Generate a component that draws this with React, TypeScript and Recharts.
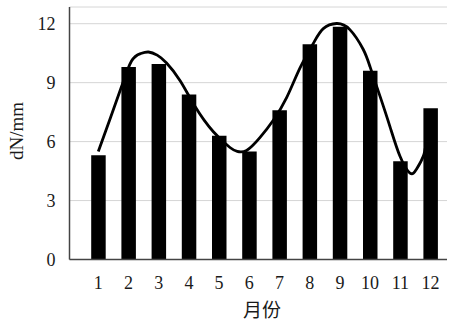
import { Bar, CartesianGrid, ComposedChart, Line, XAxis, YAxis } from 'recharts';

// Monthly values shown as bars
const months = [1, 2, 3, 4, 5, 6, 7, 8, 9, 10, 11, 12];
const barValues = [5.3, 9.8, 9.95, 8.4, 6.3, 5.5, 7.6, 10.95, 11.85, 9.6, 5.0, 7.7];

// Fitted curve, traced point by point
const curveMonths = [
  1.0, 1.4, 1.77, 2.1, 2.4, 2.66, 2.95, 3.26, 3.71, 4.2, 4.81, 5.36, 5.6, 5.91, 6.35, 6.8,
  7.24, 7.68, 8.12, 8.45, 8.89, 9.33, 9.77, 10.0, 10.33, 10.66, 10.99, 11.32, 11.54, 11.76, 11.85,
];
const curveValues = [
  5.5, 7.2, 8.8, 10.1, 10.48, 10.56, 10.4, 10.0, 9.1, 7.8, 6.5, 5.7, 5.5, 5.55, 6.2, 7.1,
  8.25, 9.75, 11.0, 11.75, 12.01, 11.7, 10.7, 9.8, 8.3, 6.75, 5.25, 4.4, 4.6, 5.25, 5.9,
];

const yTicks = [0, 3, 6, 9, 12];
const yMax = 12.85;

const W = 460;
const H = 324;
const PLOT_LEFT = 69.5;
const PLOT_RIGHT = 447;
const PLOT_TOP = 7;
const PLOT_BOTTOM = 259.5;
const PAD_LEFT = 13.7;
const PAD_RIGHT = 1.4;

const band = (PLOT_RIGHT - PLOT_LEFT - PAD_LEFT - PAD_RIGHT) / months.length;
const curveMin = 1 - (PAD_LEFT + band / 2) / band;
const curveMax = curveMin + (PLOT_RIGHT - PLOT_LEFT) / band;

const barData = months.map((m, i) => ({ month: m, value: barValues[i] }));
const curveData = curveMonths.map((m, i) => ({ m, dn: curveValues[i] }));

const serif = '"Liberation Serif", "DejaVu Serif", serif';
const frame = '#444';

export default function App() {
  return (
    <div style={{ position: 'absolute', left: 0, top: 0, width: W, height: H, background: '#fff' }}>
      <ComposedChart
        width={W}
        height={H}
        data={barData}
        margin={{ top: PLOT_TOP, right: W - PLOT_RIGHT, bottom: 0, left: 0 }}
      >
        <CartesianGrid horizontal vertical={false} stroke="#d6d6d6" strokeWidth={1} />
        <XAxis
          xAxisId="bar"
          dataKey="month"
          type="category"
          padding={{ left: PAD_LEFT, right: PAD_RIGHT }}
          height={H - PLOT_BOTTOM}
          axisLine={{ stroke: frame, strokeWidth: 1.5 }}
          tickLine={false}
          tickMargin={11}
          tick={{ fontSize: 18, fill: '#1a1a1a', fontFamily: serif }}
          interval={0}
          label={{
            content: () => (
              <text
                x={262}
                y={317}
                textAnchor="middle"
                fontSize={19}
                fill="#1a1a1a"
                fontFamily='"Noto Sans CJK SC", sans-serif'
              >
                月份
              </text>
            ),
          }}
        />
        <XAxis
          xAxisId="top"
          dataKey="month"
          type="category"
          orientation="top"
          padding={{ left: PAD_LEFT, right: PAD_RIGHT }}
          height={0}
          mirror
          tick={false}
          tickSize={4}
          tickLine={{ stroke: '#bbb' }}
          axisLine={{ stroke: frame, strokeWidth: 1.5 }}
          interval={0}
        />
        <XAxis
          xAxisId="curve"
          dataKey="m"
          type="number"
          domain={[curveMin, curveMax]}
          allowDataOverflow
          hide
        />
        <YAxis
          domain={[0, yMax]}
          ticks={yTicks}
          allowDataOverflow
          width={PLOT_LEFT}
          axisLine={{ stroke: frame, strokeWidth: 1.5 }}
          tickLine={false}
          tickMargin={8}
          tick={{ fontSize: 18, fill: '#1a1a1a', fontFamily: serif }}
          label={{
            content: () => (
              <text
                x={23}
                y={131}
                transform="rotate(-90 23 131)"
                textAnchor="middle"
                fontSize={19}
                fill="#1a1a1a"
                fontFamily={serif}
              >
                dN/mm
              </text>
            ),
          }}
        />
        <YAxis
          yAxisId="right"
          orientation="right"
          domain={[0, yMax]}
          width={0}
          tick={false}
          tickLine={false}
          axisLine={{ stroke: frame, strokeWidth: 1.5 }}
        />
        <Bar xAxisId="bar" dataKey="value" fill="#000" barSize={14.5} isAnimationActive={false} />
        <Line
          xAxisId="curve"
          data={curveData}
          dataKey="dn"
          type="natural"
          stroke="#000"
          strokeWidth={2.8}
          dot={false}
          activeDot={false}
          isAnimationActive={false}
        />
      </ComposedChart>
    </div>
  );
}
